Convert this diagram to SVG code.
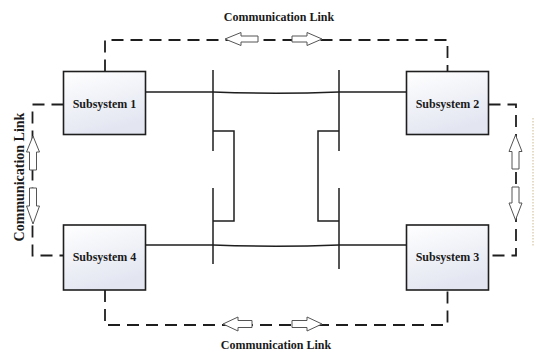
<svg xmlns="http://www.w3.org/2000/svg" width="535" height="352" viewBox="0 0 535 352">
<defs>
<linearGradient id="boxfill" x1="0" y1="0" x2="0.35" y2="1">
<stop offset="0" stop-color="#ffffff"/>
<stop offset="1" stop-color="#e3e6f1"/>
</linearGradient>
<style>
.box{fill:url(#boxfill);stroke:#1e1e1e;stroke-width:1.6}
.lbl{font-family:"Liberation Serif","Times New Roman",serif;font-weight:bold;font-size:12px;fill:#1a1a1a;text-anchor:middle}
.bus{fill:none;stroke:#1e1e1e;stroke-width:1.5}
.comm{fill:none;stroke:#1e1e1e;stroke-width:1.8;stroke-dasharray:12 7}
.arr{fill:#ffffff;stroke:#555555;stroke-width:1}
</style>
</defs>
<rect width="535" height="352" fill="#ffffff"/>

<g id="connectors">
<g id="bus">
<path class="bus" d="M145.5 92 L213 92 Q276 94.5 339 92 L406.5 92"/>
<path class="bus" d="M145.5 245 L213 245 Q276 247.5 339 245 L406.5 245"/>
<path class="bus" d="M213 70 V151 M213 188 V264"/>
<path class="bus" d="M339 70 V151 M339 188 V269"/>
<path class="bus" d="M213 131 H234 V221 H213"/>
<path class="bus" d="M339 131 H318 V221 H339"/>
</g>
<g id="comm-links">
<path class="comm" d="M105 71.5 V40 H447.5 V71.5"/>
<path class="comm" d="M105 290 V325 H447.5 V290"/>
<path class="comm" d="M63.5 104.5 H32.5 V255.5 H63.5"/>
<path class="comm" d="M488.5 104.5 H516 V255.5 H488.5"/>
<polygon class="arr" points="225,39 241,32.5 241,36 258,36 258,42 241,42 241,45.5"/>
<polygon class="arr" points="322,39 307,32.5 307,36 292,36 292,42 307,42 307,45.5"/>
<polygon class="arr" points="223,324 238,317 238,320.5 252,320.5 252,327.5 238,327.5 238,331"/>
<polygon class="arr" points="322,324 307,317 307,320.5 292,320.5 292,327.5 307,327.5 307,331"/>
<polygon class="arr" points="33,136 26.5,152 29.5,152 29.5,170 36.5,170 36.5,152 39.5,152"/>
<polygon class="arr" points="33,224 26.5,206 29.5,206 29.5,188 36.5,188 36.5,206 39.5,206"/>
<polygon class="arr" points="515.5,135 509,151.5 512,151.5 512,169 519,169 519,151.5 522,151.5"/>
<polygon class="arr" points="515.5,220 509,203 512,203 512,187 519,187 519,203 522,203"/>
</g>
<g id="link-labels">
<text class="lbl" x="279" y="21">Communication Link</text>
<text class="lbl" x="276" y="349">Communication Link</text>
<text class="lbl" style="font-size:14px" transform="translate(23.5 177) rotate(-90)">Communication Link</text>
</g>
</g>

<g id="subsystem1">
<rect class="box" x="63.5" y="71.5" width="82" height="63"/>
<text class="lbl" x="104.5" y="108">Subsystem 1</text>
</g>
<g id="subsystem2">
<rect class="box" x="406.5" y="71.5" width="82" height="63"/>
<text class="lbl" x="447.5" y="108">Subsystem 2</text>
</g>
<g id="subsystem3">
<rect class="box" x="406.5" y="225" width="82" height="65"/>
<text class="lbl" x="447.5" y="261">Subsystem 3</text>
</g>
<g id="subsystem4">
<rect class="box" x="63.5" y="225" width="82" height="65"/>
<text class="lbl" x="104.5" y="261">Subsystem 4</text>
</g>

<line x1="533" y1="118" x2="533" y2="247" stroke="#cdb88e" stroke-width="1" stroke-dasharray="1.5 1.5"/>
</svg>
